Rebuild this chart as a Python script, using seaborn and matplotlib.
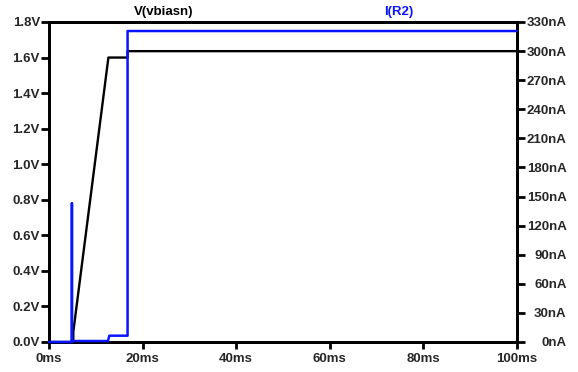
import matplotlib
matplotlib.use("Agg")
import matplotlib.pyplot as plt
import seaborn as sns
import pandas as pd
from matplotlib.ticker import FuncFormatter, MultipleLocator

# ---- data ----
v_time_ms = [0, 5.2, 5.2, 12.7, 16.8, 16.8, 100]
v_vbiasn = [0.0, 0.0, 0.058, 1.60, 1.60, 1.636, 1.636]

i_time_ms = [0, 4.9, 4.9, 4.9, 12.6, 12.9, 16.8, 16.8, 100]
i_r2_na = [0, 0, 143, 1, 1, 6.5, 6.5, 320.7, 320.7]

x_ticks = [0, 20, 40, 60, 80, 100]
v_ticks = [0.0, 0.2, 0.4, 0.6, 0.8, 1.0, 1.2, 1.4, 1.6, 1.8]
i_ticks = [0, 30, 60, 90, 120, 150, 180, 210, 240, 270, 300, 330]

sns.set_style("white")
plt.rcParams['font.family'] = ['Liberation Sans', 'DejaVu Sans']
plt.rcParams['font.weight'] = 'bold'

BLUE = "#0a14ff"

fig = plt.figure(figsize=(5.78, 3.72), dpi=100)
ax = fig.add_axes([49/578, 1 - 342/372, (516.7-49)/578, (342-22)/372])
ax2 = ax.twinx()

dv = pd.DataFrame({"t": v_time_ms, "v": v_vbiasn})
di = pd.DataFrame({"t": i_time_ms, "i": i_r2_na})

sns.lineplot(data=dv, x="t", y="v", ax=ax, color="black", linewidth=1.7,
             sort=False, estimator=None)
sns.lineplot(data=di, x="t", y="i", ax=ax2, color=BLUE, linewidth=1.8,
             sort=False, estimator=None, clip_on=False, zorder=5)

ax.set_xlim(0, 100)
ax.set_ylim(0, 1.8)
ax2.set_ylim(0, 330)
ax.set_xticks(x_ticks)
ax.set_yticks(v_ticks)
ax2.set_yticks(i_ticks)
ax.xaxis.set_major_formatter(FuncFormatter(lambda x, p: f"{x:.0f}ms"))
ax.yaxis.set_major_formatter(FuncFormatter(lambda y, p: f"{y:.1f}V"))
ax2.yaxis.set_major_formatter(FuncFormatter(lambda y, p: f"{y:.0f}nA"))

for a in (ax, ax2):
    a.set_xlabel("")
    a.set_ylabel("")
    a.grid(False)
    for s in a.spines.values():
        s.set_color("black")
        s.set_linewidth(2.0)
        s.set_visible(True)

fs = 9.5
ax.tick_params(axis="y", which="major", direction="out", length=6, width=2,
               color="black", pad=0.5, labelsize=fs, left=True)
ax.tick_params(axis="x", which="major", direction="out", length=5, width=2,
               color="black", pad=3, labelsize=fs, bottom=True)
ax2.tick_params(axis="y", which="major", direction="out", length=6, width=2,
                color="black", pad=30, labelsize=fs, right=True)
for lab in ax2.get_yticklabels():
    lab.set_horizontalalignment("right")
    lab.set_fontweight("bold")
for lab in ax.get_xticklabels() + ax.get_yticklabels():
    lab.set_fontweight("bold")

fig.text(164/578, 1 - 12/372, "V(vbiasn)", ha="center", va="center",
         fontsize=fs, fontweight="bold", color="black")
fig.text(398.5/578, 1 - 12/372, "I(R2)", ha="center", va="center",
         fontsize=fs, fontweight="bold", color=BLUE)

fig.savefig("out.png", dpi=100)
